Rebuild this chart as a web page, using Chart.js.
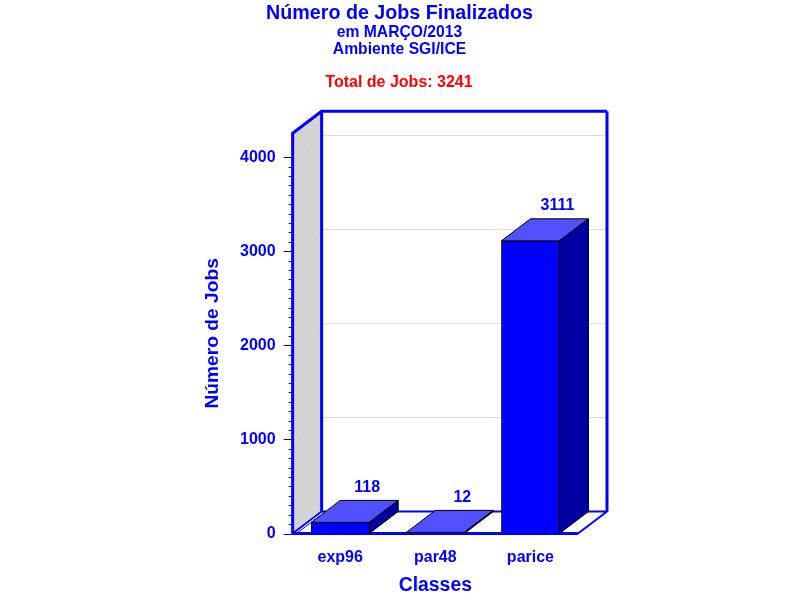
<!DOCTYPE html>
<html>
<head>
<meta charset="utf-8">
<title>Número de Jobs Finalizados</title>
<script src="https://cdn.jsdelivr.net/npm/chart.js@4"></script>
<style>
  html, body { margin: 0; padding: 0; background: #fff; }
  #wrap { width: 800px; height: 600px; }
</style>
</head>
<body>
<div id="wrap"><canvas id="jobsChart" width="800" height="600"></canvas></div>
<script>
const categories = ['exp96', 'par48', 'parice'];
const jobs = [118, 12, 3111];
const totalLabel = 'Total de Jobs: 3241';
const subtitleLines = ['em MARÇO/2013', 'Ambiente SGI/ICE'];

const BLUE = '#0000ff';
const fontName = '"Liberation Sans", Arial, sans-serif';
// offset of the back wall from the front of the box
const depthX = 29;
const depthY = 22;

function poly(ctx, pts, fill, stroke, width) {
  ctx.beginPath();
  pts.forEach((p, i) => i ? ctx.lineTo(p[0], p[1]) : ctx.moveTo(p[0], p[1]));
  ctx.closePath();
  if (fill) { ctx.fillStyle = fill; ctx.fill(); }
  if (stroke) { ctx.strokeStyle = stroke; ctx.lineWidth = width; ctx.stroke(); }
}

// walls, floor, grid and tick marks behind the bars
const boxPlugin = {
  id: 'box3d',
  // center the titles on the page, not on the padded layout box
  afterLayout(chart) {
    chart.boxes.forEach(b => {
      if (b.position === 'top') { b.left = 0; b.right = 799; }
    });
  },
  beforeDatasetsDraw(chart) {
    const { ctx, chartArea: a, scales: { y } } = chart;
    const l = a.left, r = a.right, t = a.top, b = a.bottom;
    ctx.save();
    ctx.lineJoin = 'round';

    poly(ctx, [[l, t], [l + depthX, t - depthY], [l + depthX, b - depthY], [l, b]], '#d3d3d3');

    // grid lines run along the side wall and across the back wall
    ctx.strokeStyle = '#dcdcdc';
    ctx.lineWidth = 1;
    y.ticks.forEach(tk => {
      if (tk.value === 0 || tk.value % 1000) return;
      const py = Math.round(y.getPixelForValue(tk.value)) + 0.5;
      ctx.beginPath();
      ctx.moveTo(l, py);
      ctx.lineTo(l + depthX, py - depthY);
      ctx.lineTo(r + depthX, py - depthY);
      ctx.stroke();
    });

    // floor
    poly(ctx, [[l, b], [r, b], [r + depthX, b - depthY], [l + depthX, b - depthY]], null, BLUE, 2);
    ctx.strokeStyle = BLUE;
    ctx.lineWidth = 1;
    ctx.beginPath();
    ctx.moveTo(l + 5, b - 1);
    ctx.lineTo(l + depthX + 3, b - depthY + 1);
    ctx.stroke();

    // frame
    ctx.lineWidth = 3;
    ctx.beginPath();
    ctx.moveTo(l + depthX, b - depthY);
    ctx.lineTo(l + depthX, t - depthY);
    ctx.lineTo(r + depthX, t - depthY);
    ctx.moveTo(l, b);
    ctx.lineTo(l, t);
    ctx.lineTo(l + depthX, t - depthY);
    ctx.moveTo(l, b);
    ctx.lineTo(r, b);
    ctx.stroke();
    ctx.beginPath();
    ctx.lineWidth = 3;
    ctx.moveTo(r + depthX, t - depthY);
    ctx.lineTo(r + depthX, b - depthY);
    ctx.stroke();

    // tick marks
    ctx.lineWidth = 1;
    y.ticks.forEach(tk => {
      const py = Math.round(y.getPixelForValue(tk.value)) + 0.5;
      ctx.beginPath();
      ctx.moveTo(l - (tk.value % 1000 ? 4 : 9), py);
      ctx.lineTo(l, py);
      ctx.stroke();
    });

    ctx.restore();
  },
  // top and side faces of the bars, value labels, total line
  afterDatasetsDraw(chart) {
    const { ctx } = chart;
    const meta = chart.getDatasetMeta(0);
    ctx.save();
    ctx.lineJoin = 'miter';
    meta.data.forEach((bar, i) => {
      const w = bar.width / 2;
      const x0 = bar.x - w, x1 = bar.x + w;
      const top = bar.y, base = bar.base;
      poly(ctx, [[x0, top], [x1, top], [x1 + depthX, top - depthY], [x0 + depthX, top - depthY]], '#5050ff', '#000', 1);
      poly(ctx, [[x1, top], [x1 + depthX, top - depthY], [x1 + depthX, base - depthY], [x1, base]], '#0000a0', '#000', 1);
      ctx.fillStyle = BLUE;
      ctx.font = 'bold 16px ' + fontName;
      ctx.textAlign = 'center';
      ctx.textBaseline = 'middle';
      ctx.fillText(String(jobs[i]), bar.x + 27, top - depthY - 13);
    });
    ctx.fillStyle = '#ff0000';
    ctx.font = 'bold 16px ' + fontName;
    ctx.textAlign = 'center';
    ctx.textBaseline = 'middle';
    ctx.fillText(totalLabel, 399, 83);
    ctx.restore();
  }
};

new Chart(document.getElementById('jobsChart').getContext('2d'), {
  type: 'bar',
  data: {
    labels: categories,
    datasets: [{
      data: jobs,
      backgroundColor: BLUE,
      borderColor: '#000',
      borderWidth: 1,
      barThickness: 58
    }]
  },
  plugins: [boxPlugin],
  options: {
    responsive: false,
    animation: false,
    layout: { padding: { left: 201, right: 222, top: 0, bottom: 3 } },
    plugins: {
      legend: { display: false },
      tooltip: { enabled: false },
      title: {
        display: true,
        text: 'Número de Jobs Finalizados',
        color: BLUE,
        font: { family: fontName, size: 19.7, weight: 'bold' },
        padding: { top: 2, bottom: -2 }
      },
      subtitle: {
        display: true,
        text: subtitleLines,
        color: BLUE,
        font: { family: fontName, size: 15.7, weight: 'bold', lineHeight: 1.1 },
        padding: { top: 0, bottom: 75 }
      }
    },
    scales: {
      x: {
        grid: { display: false },
        border: { display: false },
        ticks: { color: BLUE, font: { family: fontName, size: 16, weight: 'bold' }, padding: 6 },
        title: {
          display: true,
          text: 'Classes',
          color: BLUE,
          font: { family: fontName, size: 19.4, weight: 'bold' },
          padding: { top: 1, bottom: 0 }
        }
      },
      y: {
        min: 0,
        max: 4255,
        grid: { display: false },
        border: { display: false },
        afterBuildTicks(axis) {
          axis.ticks = axis.ticks.filter(t => t.value <= 4000);
        },
        ticks: {
          stepSize: 100,
          autoSkip: false,
          color: BLUE,
          padding: 9,
          font: { family: fontName, size: 16, weight: 'bold' },
          callback: v => (v % 1000 === 0 ? String(v) : '')
        },
        title: {
          display: true,
          text: 'Número de Jobs',
          color: BLUE,
          font: { family: fontName, size: 19.2, weight: 'bold' },
          padding: { top: 0, bottom: 7 }
        }
      }
    }
  }
});
</script>
</body>
</html>
